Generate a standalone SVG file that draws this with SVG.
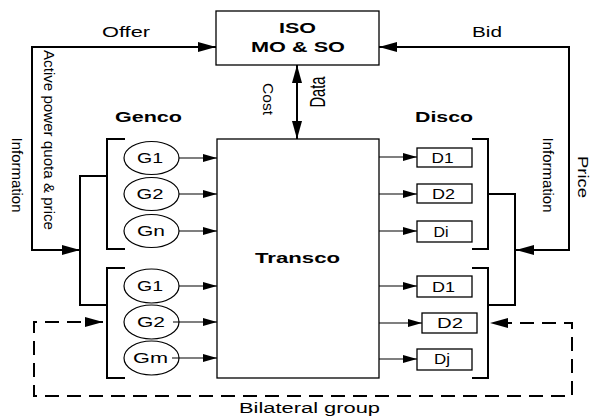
<svg xmlns="http://www.w3.org/2000/svg" width="591" height="417" viewBox="0 0 591 417">
<defs>
<style>
text{font-family:"Liberation Sans",Arial,sans-serif;fill:#000}
.b{font-weight:bold;font-size:15px}
.t{font-size:14px}
.v{font-size:15px}
.box{fill:#fff;stroke:#000;stroke-width:1.3}
.ell{fill:#fff;stroke:#000;stroke-width:1.2}
.thick{fill:none;stroke:#000;stroke-width:2}
.thin{fill:none;stroke:#000;stroke-width:1.2}
.dash{fill:none;stroke:#000;stroke-width:2;stroke-dasharray:14,8}
</style>
<marker id="big" markerUnits="userSpaceOnUse" markerWidth="18" markerHeight="10" refX="18" refY="5" orient="auto-start-reverse" viewBox="0 0 18 10">
<path d="M0,0 L18,5 L0,10 z" fill="#000"/>
</marker>
<marker id="sm" markerUnits="userSpaceOnUse" markerWidth="14" markerHeight="8" refX="14" refY="4" orient="auto-start-reverse" viewBox="0 0 14 8">
<path d="M0,0 L14,4 L0,8 z" fill="#000"/>
</marker>
</defs>
<rect width="591" height="417" fill="#fff"/>

<g id="iso">
<rect class="box" x="216" y="11" width="163" height="54"/>
<text class="b" x="297.5" y="33" text-anchor="middle" textLength="37" lengthAdjust="spacingAndGlyphs">ISO</text>
<text class="b" x="298" y="52" text-anchor="middle" textLength="94" lengthAdjust="spacingAndGlyphs">MO &amp; SO</text>
</g>

<g id="transco">
<rect class="box" x="217" y="139" width="162" height="239"/>
<text class="b" x="297.5" y="263" text-anchor="middle" textLength="85" lengthAdjust="spacingAndGlyphs">Transco</text>
</g>

<g id="genco-label"><text class="b" x="148.5" y="122" text-anchor="middle" textLength="67" lengthAdjust="spacingAndGlyphs">Genco</text></g>
<g id="disco-label"><text class="b" x="444" y="122" text-anchor="middle" textLength="58" lengthAdjust="spacingAndGlyphs">Disco</text></g>

<g id="g1a"><ellipse class="ell" cx="151.5" cy="158" rx="27.5" ry="16.5"/><text class="t" x="150" y="163" text-anchor="middle" textLength="26" lengthAdjust="spacingAndGlyphs">G1</text></g>
<g id="g2a"><ellipse class="ell" cx="151.5" cy="194" rx="27.5" ry="16.5"/><text class="t" x="150" y="199" text-anchor="middle" textLength="27" lengthAdjust="spacingAndGlyphs">G2</text></g>
<g id="gna"><ellipse class="ell" cx="151.5" cy="231" rx="27.5" ry="16.5"/><text class="t" x="151" y="236" text-anchor="middle" textLength="28" lengthAdjust="spacingAndGlyphs">Gn</text></g>
<g id="g1b"><ellipse class="ell" cx="151.5" cy="286" rx="27.5" ry="17"/><text class="t" x="150" y="291" text-anchor="middle" textLength="26" lengthAdjust="spacingAndGlyphs">G1</text></g>
<g id="g2b"><ellipse class="ell" cx="151.5" cy="322" rx="27.5" ry="17"/><text class="t" x="151" y="327" text-anchor="middle" textLength="28" lengthAdjust="spacingAndGlyphs">G2</text></g>
<g id="gmb"><ellipse class="ell" cx="151.5" cy="358" rx="27.5" ry="17"/><text class="t" x="150.5" y="363" text-anchor="middle" textLength="35" lengthAdjust="spacingAndGlyphs">Gm</text></g>

<g id="d1a"><rect class="box" x="417" y="148" width="55" height="19"/><text class="t" x="442.5" y="163" text-anchor="middle" textLength="22" lengthAdjust="spacingAndGlyphs">D1</text></g>
<g id="d2a"><rect class="box" x="417" y="184" width="55" height="19"/><text class="t" x="443.5" y="199" text-anchor="middle" textLength="23" lengthAdjust="spacingAndGlyphs">D2</text></g>
<g id="dia"><rect class="box" x="417" y="221" width="55" height="21"/><text class="t" x="441" y="236.5" text-anchor="middle" textLength="15" lengthAdjust="spacingAndGlyphs">Di</text></g>
<g id="d1b"><rect class="box" x="417" y="276" width="55" height="21"/><text class="t" x="443.5" y="291.5" text-anchor="middle" textLength="23" lengthAdjust="spacingAndGlyphs">D1</text></g>
<g id="d2b"><rect class="box" x="422" y="313" width="55" height="20"/><text class="t" x="450" y="328" text-anchor="middle" textLength="26" lengthAdjust="spacingAndGlyphs">D2</text></g>
<g id="djb"><rect class="box" x="417" y="349" width="55" height="21"/><text class="t" x="442" y="364" text-anchor="middle" textLength="16" lengthAdjust="spacingAndGlyphs">Dj</text></g>

<g id="connectors">
<path class="thick" d="M216,47 L32,47 L32,250 L80,250" marker-start="url(#big)" marker-end="url(#big)"/>
<path class="thick" d="M379,47 L569,47 L569,250 L516,250" marker-start="url(#big)" marker-end="url(#big)"/>
<path class="thick" d="M297,65 L297,139" marker-start="url(#big)" marker-end="url(#big)"/>
<path class="thick" d="M107,176 L80,176 L80,305 L107,305"/>
<path class="thick" d="M125,139 L107,139 L107,249 L125,249"/>
<path class="thick" d="M125,268 L107,268 L107,378 L125,378"/>
<path class="thick" d="M472,139 L488,139 L488,249 L472,249"/>
<path class="thick" d="M472,268 L488,268 L488,378 L472,378"/>
<path class="thick" d="M488,194 L515,194 L515,305 L488,305"/>
<path class="dash" d="M103,322 L34,322 L34,396 L572,396 L572,323 L490,323" marker-start="url(#big)" marker-end="url(#big)"/>
<path class="thin" d="M179,158 L217,158" marker-end="url(#sm)"/>
<path class="thin" d="M179,194 L217,194" marker-end="url(#sm)"/>
<path class="thin" d="M179,231 L217,231" marker-end="url(#sm)"/>
<path class="thin" d="M179,286 L217,286" marker-end="url(#sm)"/>
<path class="thin" d="M173,322 L217,322" marker-end="url(#sm)"/>
<path class="thin" d="M172,358 L217,358" marker-end="url(#sm)"/>
<path class="thin" d="M379,157 L417,157" marker-end="url(#sm)"/>
<path class="thin" d="M379,194 L417,194" marker-end="url(#sm)"/>
<path class="thin" d="M379,231 L417,231" marker-end="url(#sm)"/>
<path class="thin" d="M379,286 L417,286" marker-end="url(#sm)"/>
<path class="thin" d="M379,323 L422,323" marker-end="url(#sm)"/>
<path class="thin" d="M379,359 L417,359" marker-end="url(#sm)"/>
</g>

<g id="labels">
<text class="t" x="126" y="37" text-anchor="middle" textLength="48" lengthAdjust="spacingAndGlyphs">Offer</text>
<text class="t" x="487" y="37" text-anchor="middle" textLength="30" lengthAdjust="spacingAndGlyphs">Bid</text>
<text class="v" transform="translate(263,99) rotate(90)" text-anchor="middle" textLength="32" lengthAdjust="spacingAndGlyphs" style="font-size:14px">Cost</text>
<text class="v" transform="translate(325,92) scale(1.5,1) rotate(-90)" text-anchor="middle" textLength="31" lengthAdjust="spacingAndGlyphs">Data</text>
<text class="v" transform="translate(44,140) rotate(90)" text-anchor="middle" textLength="180" lengthAdjust="spacingAndGlyphs">Active power quota &amp; price</text>
<text class="v" transform="translate(12,175) rotate(90)" text-anchor="middle" textLength="75" lengthAdjust="spacingAndGlyphs">Information</text>
<text class="v" transform="translate(543,175) rotate(90)" text-anchor="middle" textLength="75" lengthAdjust="spacingAndGlyphs">Information</text>
<text class="v" transform="translate(578,177) rotate(90)" text-anchor="middle" textLength="42" lengthAdjust="spacingAndGlyphs">Price</text>
<text class="t" x="309.5" y="413" text-anchor="middle" textLength="141" lengthAdjust="spacingAndGlyphs">Bilateral group</text>
</g>
</svg>
